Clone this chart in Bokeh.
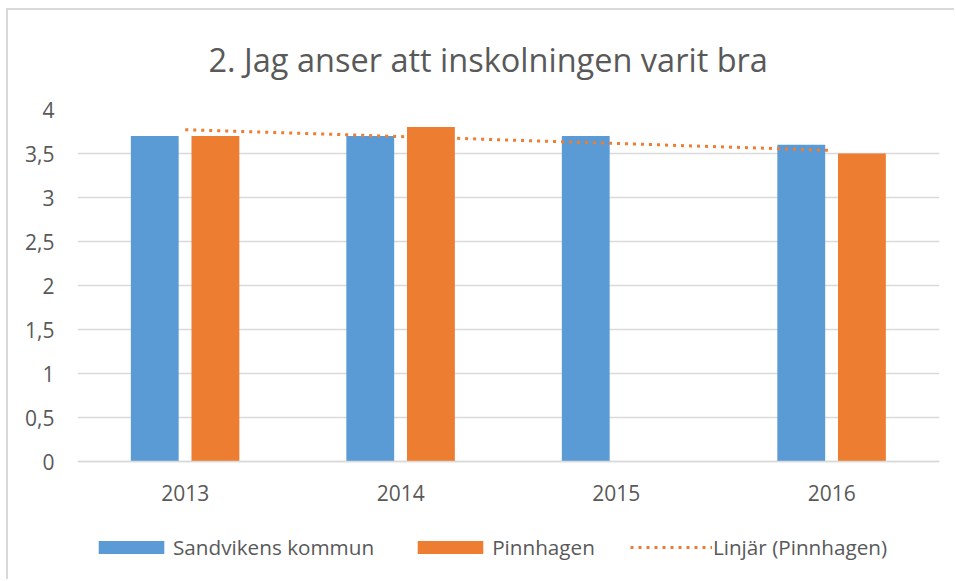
import numpy as np
from bokeh.plotting import figure
from bokeh.models import ColumnDataSource, FixedTicker, Legend, LegendItem
from bokeh.transform import dodge
from bokeh.embed import file_html
from bokeh.resources import INLINE

# ---- data ----
years = ["2013", "2014", "2015", "2016"]
sandviken = [3.7, 3.7, 3.7, 3.6]
pinnhagen = [3.7, 3.8, float("nan"), 3.5]
y_ticks = [0, 0.5, 1, 1.5, 2, 2.5, 3, 3.5, 4]
y_tick_labels = ["0", "0,5", "1", "1,5", "2", "2,5", "3", "3,5", "4"]
title_text = "2. Jag anser att inskolningen varit bra"
series_names = ["Sandvikens kommun", "Pinnhagen", "Linjär (Pinnhagen)"]

BLUE = "#5B9BD5"
ORANGE = "#ED7D31"
GRID = "#D9D9D9"
TXT = "#595959"
FONT = "Open Sans"

src = ColumnDataSource(dict(year=years, s=sandviken, p=pinnhagen))

# frame extends below the axis so the legend can sit inside it
p = figure(x_range=years, y_range=(-1.36, 4), width=948, height=571,
           output_backend="svg", toolbar_location=None,
           min_border_left=69, min_border_right=17, min_border_top=98,
           min_border_bottom=0,
           styles={"margin-left": "8px", "margin-top": "10px",
                   "box-shadow": "-2px -2px 0 0 #D9D9D9"})

p.title.text = title_text
p.title.text_font = FONT
p.title.text_font_size = "32.5px"
p.title.text_font_style = "normal"
p.title.text_color = TXT
p.title.align = "left"
p.title.vertical_align = "top"
p.title.offset = 131
p.title.standoff = 52

r_s = p.vbar(x=dodge("year", -0.1415, range=p.x_range), top="s", width=0.222,
             source=src, fill_color=BLUE, line_color=None)
r_p = p.vbar(x=dodge("year", 0.14, range=p.x_range), top="p", width=0.222,
             source=src, fill_color=ORANGE, line_color=None)

# linear trendline for Pinnhagen computed from the data
idx = np.array([i for i, v in enumerate(pinnhagen) if not np.isnan(v)], dtype=float)
vals = np.array([v for v in pinnhagen if not np.isnan(v)])
slope, intercept = np.polyfit(idx, vals, 1)
tx = [years[0], years[-1]]
ty = [intercept + slope * 0, intercept + slope * (len(years) - 1)]
r_t = p.line(x=tx, y=ty, line_color=ORANGE, line_width=3, line_dash="3 5")

# axes
p.yaxis.ticker = FixedTicker(ticks=y_ticks)
p.yaxis.major_label_overrides = {t: l for t, l in zip(y_ticks, y_tick_labels)}
p.yaxis.axis_line_color = None
p.yaxis.major_tick_line_color = None
p.yaxis.minor_tick_line_color = None
p.yaxis.major_label_text_font = FONT
p.yaxis.major_label_text_font_size = "21px"
p.yaxis.major_label_text_color = TXT
p.yaxis.major_label_standoff = 17

p.xaxis.fixed_location = 0
p.xaxis.axis_line_color = GRID
p.xaxis.axis_line_width = 1.5
p.xaxis.major_tick_line_color = None
p.xaxis.minor_tick_line_color = None
p.xaxis.major_label_text_font = FONT
p.xaxis.major_label_text_font_size = "21px"
p.xaxis.major_label_text_color = TXT
p.xaxis.major_label_standoff = 17

p.xgrid.grid_line_color = None
p.ygrid.grid_line_color = GRID
p.ygrid.grid_line_width = 1.5
p.outline_line_color = None
p.x_range.range_padding = 0

legend = Legend(items=[LegendItem(label=series_names[0], renderers=[r_s]),
                       LegendItem(label=series_names[1], renderers=[r_p]),
                       LegendItem(label=series_names[2], renderers=[r_t])],
                location=(13, 20), orientation="horizontal",
                glyph_width=82, glyph_height=16, label_standoff=1,
                padding=0, margin=0, spacing=35,
                border_line_color=None, background_fill_alpha=0,
                label_text_font=FONT, label_text_font_size="20.7px",
                label_text_color=TXT)
p.add_layout(legend)

open("out.html", "w").write(file_html(p, INLINE))
